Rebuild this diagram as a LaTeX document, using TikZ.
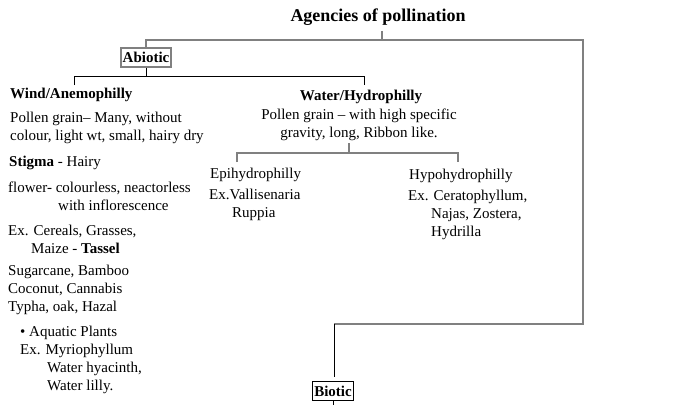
\documentclass[tikz,border=0pt]{standalone}
\usepackage{fontspec}
\setmainfont{Liberation Serif}
\usetikzlibrary{positioning}

\definecolor{linegray}{RGB}{128,128,128}

\tikzset{
  grayline/.style={draw=linegray, line width=1.8pt},
  blackline/.style={draw=black, line width=0.9pt},
  txt/.style={anchor=west, inner sep=0pt, align=left, yshift=-2pt,
    font=\fontsize{15}{18}\selectfont},
  head/.style={txt, font=\fontsize{15}{18}\selectfont\bfseries},
  kindbox/.style={inner xsep=1.5pt, inner ysep=0pt, minimum height=19pt,
    font=\fontsize{15}{18}\selectfont\bfseries}
}

\begin{document}
\begin{tikzpicture}[x=1pt, y=-1pt]
      \useasboundingbox (0,0) rectangle (684,404);

      % top of the tree
      \node[inner sep=0pt, yshift=-2pt, font=\fontsize{18}{20}\selectfont\bfseries]
      (agencies) at (378,15) {Agencies of pollination};

      \node[kindbox, draw=linegray, line width=1.5pt] (abiotic) at (146,57.5) {Abiotic};
      \node[kindbox, draw=black, line width=0.9pt] (biotic) at (333,391) {Biotic};

      \coordinate (stem) at (382,31);
      \coordinate (split) at (382,40);
      \coordinate (turn) at (583,324);
      \coordinate (bend) at (334,324);
      \coordinate (biotictop) at (334,377);

      \draw[grayline] (stem) -- (split);
      \draw[grayline] (abiotic.north) |- (split) -| (turn) -- (bend);
      \draw[blackline] (bend) -- (biotictop);
      \draw[blackline] (biotic.south) -- ++(0,4);

      % abiotic : wind and water
      \coordinate (windtop) at (74,85);
      \coordinate (windarm) at (74,76);
      \coordinate (waterarm) at (364,76);
      \coordinate (watertop) at (364,85);

      \draw[blackline] (abiotic.south) -- (abiotic.south |- windarm);
      \draw[blackline] (windtop) -- (windarm) -- (waterarm) -- (watertop);

      \node[head] (wind) at (10,93) {Wind/Anemophilly};
      \node[txt] (windpollen) at (10,125.5) {Pollen grain– Many, without\\colour, light wt, small, hairy dry};
      \node[txt] (stigma) at (9,161) {\textbf{Stigma} - Hairy};
      \node[txt] (flower) at (8,194.5) {flower- colourless, neactorless\\\hspace*{50pt}with inflorescence};
      \node[txt] (cereals) at (8,237) {Ex. Cereals, Grasses,\\\hspace*{23pt}Maize - \textbf{Tassel}};
      \node[txt] (crops) at (8,288) {Sugarcane, Bamboo\\Coconut, Cannabis\\Typha, oak, Hazal};
      \node[txt] (aquatic) at (20,358) {\textbullet\ Aquatic Plants\\Ex. Myriophyllum\\\hspace*{27pt}Water hyacinth,\\\hspace*{27pt}Water lilly.};

      \node[head, anchor=center] (water) at (361,95) {Water/Hydrophilly};
      \node[txt, anchor=center, align=center] (waterpollen) at (359,123)
      {Pollen grain – with high specific\\gravity, long, Ribbon like.};

      % water : epi and hypo
      \coordinate (waterstem) at (349,143);
      \coordinate (waterfork) at (349,153);
      \coordinate (epitop) at (237,162);
      \coordinate (hypotop) at (458,162);

      \draw[grayline] (waterstem) -- (waterfork);
      \draw[grayline] (epitop) |- (waterfork) -| (hypotop);

      \node[txt] (epi) at (210,173) {Epihydrophilly};
      \node[txt] (epiex) at (209,203) {Ex.Vallisenaria\\\hspace*{23pt}Ruppia};
      \node[txt] (hypo) at (409,174) {Hypohydrophilly};
      \node[txt] (hypoex) at (408,213) {Ex. Ceratophyllum,\\\hspace*{23pt}Najas, Zostera,\\\hspace*{23pt}Hydrilla};

      % \draw[help lines] (0,0) grid[step=50] (684,404);
\end{tikzpicture}
\end{document}
